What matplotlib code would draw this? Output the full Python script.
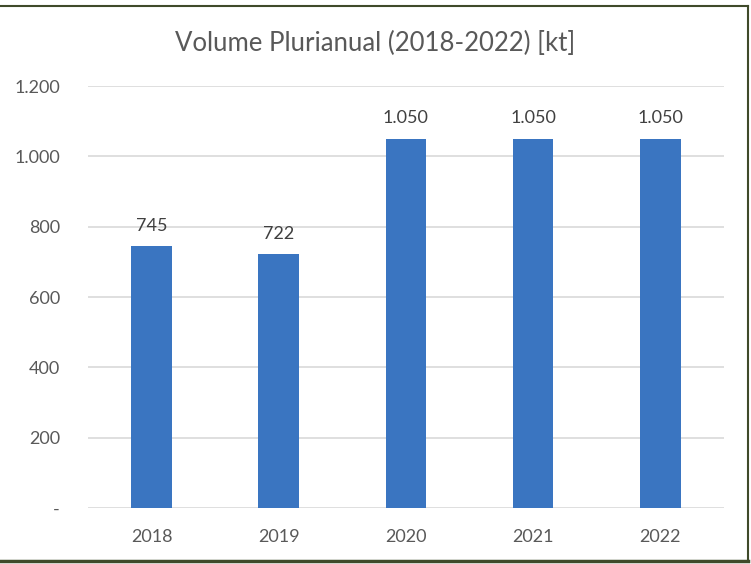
import matplotlib.pyplot as plt
from matplotlib.lines import Line2D

# data
years = ['2018', '2019', '2020', '2021', '2022']
volume = [745, 722, 1050, 1050, 1050]
yticks = [0, 200, 400, 600, 800, 1000, 1200]

def fmt(v):
    # Excel style: dot as thousands separator, dash for zero
    if v == 0:
        return '-'
    return '{:,}'.format(v).replace(',', '.')

plt.rcParams['font.family'] = ['Lato', 'DejaVu Sans']
txt = '#595959'

fig = plt.figure(figsize=(7.51, 5.64), dpi=100)
ax = fig.add_axes([0.117, 0.0993, 0.847, 0.7482])

x = range(len(years))
bars = ax.bar(x, volume, width=0.32, color='#3a75c1', zorder=3)
for b, v in zip(bars, volume):
    ax.annotate(fmt(v), (b.get_x() + b.get_width() / 2, v), xytext=(0, 9),
                textcoords='offset points', ha='center', va='bottom',
                fontsize=13, color='#404040')

ax.set_xlim(-0.5, len(years) - 0.5)
ax.set_ylim(0, 1200)
ax.set_yticks(yticks)
ax.set_yticklabels([fmt(t) for t in yticks])
ax.set_xticks(list(x))
ax.set_xticklabels(years)
ax.tick_params(length=0, labelsize=13, labelcolor=txt)
ax.tick_params(axis='y', pad=20)
ax.tick_params(axis='x', pad=15)
ax.grid(axis='y', color='#d9d9d9', linewidth=1.2, zorder=0)
for s in ax.spines.values():
    s.set_visible(False)

fig.text(0.5, 0.923, 'Volume Plurianual (2018-2022) [kt]', ha='center', va='center',
         fontsize=18.5, color=txt)

# frame around the chart (top, right, bottom)
c = '#3f4a2a'
fig.add_artist(Line2D([0, 0.996], [0.99, 0.99], color=c, lw=1.5, transform=fig.transFigure))
fig.add_artist(Line2D([0, 0.996], [0.005, 0.005], color=c, lw=2.5, transform=fig.transFigure))
fig.add_artist(Line2D([0.996, 0.996], [0.005, 0.99], color=c, lw=1.5, transform=fig.transFigure))

fig.savefig('out.png', dpi=100)
